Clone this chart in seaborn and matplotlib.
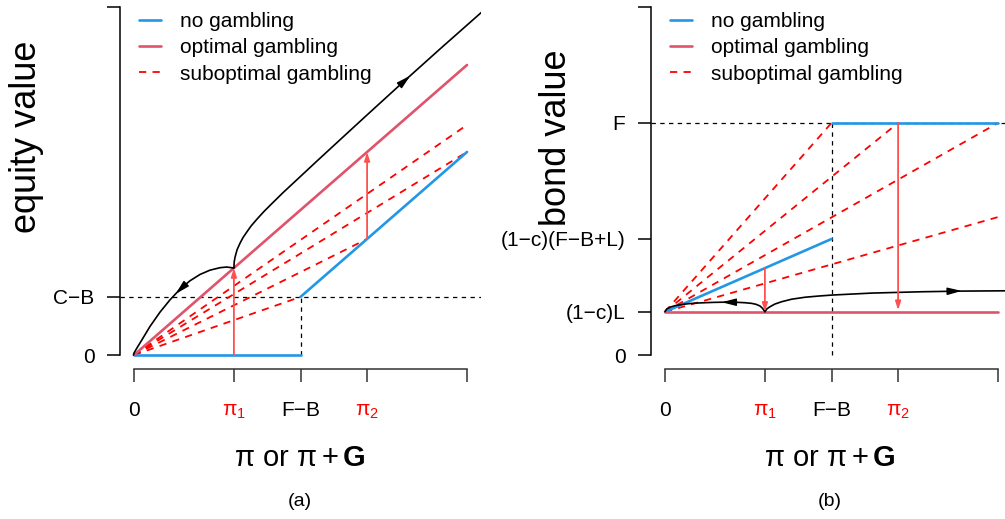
import numpy as np
import pandas as pd
import matplotlib
matplotlib.use("Agg")
import matplotlib.pyplot as plt
from matplotlib.lines import Line2D
import seaborn as sns

# x axis (same for both panels): 0, pi1, F-B, pi2, right end
xtick_pos = [0.0, 0.6, 1.0, 1.4, 2.0]
xtick_lab = ['0', r'$\pi_1$', 'F\u2212B', r'$\pi_2$', '']
red_ticks = [1, 3]

# ---- panel (a): equity value ----
a_ytick_pos = [0.0, 0.35, 2.096]
a_ytick_lab = ['0', 'C\u2212B', '']
a_nogamble_x = [0.0, 1.0, 1.0, 2.0]
a_nogamble_y = [0.0, 0.0, 0.35, 1.223]
a_nogamble_seg = [0, 0, 1, 1]
a_optimal_x = [0.0, 2.0]
a_optimal_y = [0.0, 1.747]
a_sub_end_x = [1.0, 1.4, 2.0, 2.0]
a_sub_end_y = [0.35, 0.699, 1.223, 1.386]
a_up_x = [0.600, 0.602, 0.607, 0.619, 0.637, 0.655, 0.679, 0.703, 0.739, 0.781,
          0.835, 0.895, 0.985, 1.093, 1.213, 1.393, 1.604, 1.844, 2.090]
a_up_y = [0.525, 0.562, 0.590, 0.634, 0.674, 0.708, 0.743, 0.777, 0.819, 0.865,
          0.919, 0.978, 1.062, 1.163, 1.274, 1.440, 1.633, 1.849, 2.067]
a_down_x = [0.600, 0.557, 0.517, 0.456, 0.396, 0.336, 0.276, 0.216, 0.156, 0.096,
            0.048, 0.018, 0.0, -0.003]
a_down_y = [0.524, 0.530, 0.526, 0.511, 0.485, 0.447, 0.396, 0.332, 0.258, 0.172,
            0.092, 0.043, 0.012, 0.0]
a_red_arrows = [((0.6, 0.0), (0.6, 0.524)), ((1.4, 0.699), (1.4, 1.223))]
a_curve_arrows = [((1.604, 1.633), (1.66, 1.683)), ((0.29, 0.407), (0.25, 0.368))]

# ---- panel (b): bond value ----
b_ytick_pos = [0.0, 0.26, 0.699, 1.398, 2.096]
b_ytick_lab = ['0', '(1\u2212c)L', '(1\u2212c)(F\u2212B+L)', 'F', '']
b_nogamble_x = [0.0, 1.0, 1.0, 2.0]
b_nogamble_y = [0.26, 0.699, 1.398, 1.398]
b_nogamble_seg = [0, 0, 1, 1]
b_optimal_x = [0.0, 2.0]
b_optimal_y = [0.26, 0.26]
b_sub_end_x = [1.0, 1.4, 2.0, 2.0]
b_sub_end_y = [1.398, 1.398, 1.398, 0.831]
b_right_x = [0.6, 0.612, 0.631, 0.66, 0.701, 0.76, 0.841, 0.92, 1.001, 1.12, 1.241,
             1.39, 1.542, 1.782, 2.09]
b_right_y = [0.261, 0.278, 0.291, 0.307, 0.321, 0.336, 0.348, 0.355, 0.361, 0.367,
             0.373, 0.377, 0.381, 0.385, 0.387]
b_left_x = [0.6, 0.585, 0.571, 0.548, 0.521, 0.48, 0.44, 0.39, 0.341, 0.29, 0.24,
            0.19, 0.14, 0.1, 0.06, 0.03, 0.01, 0.0]
b_left_y = [0.261, 0.282, 0.295, 0.305, 0.311, 0.315, 0.317, 0.318, 0.318, 0.317,
            0.315, 0.313, 0.309, 0.304, 0.297, 0.288, 0.277, 0.261]
b_red_arrows = [((0.6, 0.523), (0.6, 0.26)), ((1.4, 1.398), (1.4, 0.27))]
b_curve_arrows = [((1.70, 0.384), (1.782, 0.386)), ((0.41, 0.318), (0.341, 0.318))]

BLUE = '#2297E6'
RED = '#DF536B'
ARROW_RED = '#FF5050'

sns.set_style('ticks')
plt.rcParams['font.family'] = ['Liberation Sans', 'DejaVu Sans']
plt.rcParams['mathtext.fontset'] = 'custom'
plt.rcParams['mathtext.rm'] = 'Liberation Sans'
plt.rcParams['mathtext.it'] = 'Liberation Sans:italic'
plt.rcParams['mathtext.bf'] = 'Liberation Sans:bold'
plt.rcParams['mathtext.default'] = 'rm'
plt.rcParams['text.color'] = 'black'
plt.rcParams['xtick.labelcolor'] = 'black'
plt.rcParams['ytick.labelcolor'] = 'black'

W, H = 1005, 519
fig = plt.figure(figsize=(W / 100, H / 100), dpi=100)


def fx(px):
    return px / W


def fy(py):
    return 1 - py / H


def draw_panel(ax, nog_x, nog_y, nog_seg, opt_x, opt_y, sub_x, sub_y, y0,
               curves, red_arrows, curve_arrows, yticks, ylabs, hline, vline_top):
    ax.set_xlim(-0.0841, 2.0841)
    ax.set_ylim(-0.0843, 2.0964)

    # reference dashed lines
    ax.axhline(hline, color='black', lw=0.9, ls=(0, (3.5, 3.5)), zorder=1)
    ax.plot([1.0, 1.0], [0.0, vline_top], color='black', lw=0.9, ls=(0, (3.5, 3.5)), zorder=1)

    # suboptimal gambling rays
    rays = pd.DataFrame({
        'x': np.ravel([[0.0, ex] for ex in sub_x]),
        'y': np.ravel([[y0, ey] for ey in sub_y]),
        'ray': np.repeat(np.arange(len(sub_x)), 2),
    })
    sns.lineplot(data=rays, x='x', y='y', units='ray', estimator=None, sort=False,
                 color='red', lw=1.3, linestyle=(0, (4, 3.5)), ax=ax, zorder=2)

    nog = pd.DataFrame({'x': nog_x, 'y': nog_y, 'seg': nog_seg})
    sns.lineplot(data=nog, x='x', y='y', units='seg', estimator=None, sort=False,
                 color=BLUE, lw=1.9, ax=ax, zorder=3)
    sns.lineplot(x=opt_x, y=opt_y, color=RED, lw=1.9, ax=ax, zorder=3)

    for cx, cy in curves:
        sns.lineplot(x=cx, y=cy, sort=False, estimator=None, color='black', lw=1.2, ax=ax, zorder=4)

    for start, end in red_arrows:
        ax.annotate('', xy=end, xytext=start,
                    arrowprops=dict(arrowstyle='-|>,head_length=0.5,head_width=0.16',
                                    color=ARROW_RED, lw=1.3, shrinkA=0, shrinkB=0), zorder=5)
    for start, end in curve_arrows:
        ax.annotate('', xy=end, xytext=start,
                    arrowprops=dict(arrowstyle='-|>,head_length=0.85,head_width=0.22',
                                    color='black', lw=1.0, shrinkA=0, shrinkB=0), zorder=5)

    # R-like detached axes
    for side in ['top', 'right']:
        ax.spines[side].set_visible(False)
    ax.spines['left'].set_bounds(0, yticks[-1])
    ax.spines['bottom'].set_bounds(0, 2.0)
    ax.spines['left'].set_linewidth(1.1)
    ax.spines['bottom'].set_linewidth(1.1)
    ax.spines['left'].set_color('black')
    ax.spines['bottom'].set_color('#333333')
    ax.set_xticks(xtick_pos)
    ax.set_xticklabels(xtick_lab)
    ax.set_yticks(yticks)
    ax.set_yticklabels(ylabs)
    ax.tick_params(axis='x', length=9.4, width=1.1, pad=14, labelsize=15, color='#333333',
                   labelcolor='black')
    ax.tick_params(axis='y', length=9.4, width=1.1, pad=9, labelsize=15, color='black',
                   labelcolor='black')
    ticks = ax.xaxis.get_major_ticks()
    labels = ax.get_xticklabels()
    for i in red_ticks:
        ticks[i].tick1line.set_color(ARROW_RED)
        labels[i].set_color('red')
    ax.set_xlabel('')
    ax.set_ylabel('')
    ax.set_facecolor('white')


ax_a = fig.add_axes([fx(120), fy(369), fx(361), 362 / H])
draw_panel(ax_a, a_nogamble_x, a_nogamble_y, a_nogamble_seg, a_optimal_x, a_optimal_y,
           a_sub_end_x, a_sub_end_y, 0.0,
           [(a_up_x, a_up_y), (a_down_x, a_down_y)], a_red_arrows, a_curve_arrows,
           a_ytick_pos, a_ytick_lab, 0.35, 0.35)

ax_b = fig.add_axes([fx(651), fy(369), fx(361), 362 / H])
draw_panel(ax_b, b_nogamble_x, b_nogamble_y, b_nogamble_seg, b_optimal_x, b_optimal_y,
           b_sub_end_x, b_sub_end_y, 0.26,
           [(b_right_x, b_right_y), (b_left_x, b_left_y)], b_red_arrows, b_curve_arrows,
           b_ytick_pos, b_ytick_lab, 1.398, 1.398)

handles = [Line2D([], [], color=BLUE, lw=1.9),
           Line2D([], [], color=RED, lw=1.9),
           Line2D([], [], color='red', lw=1.3, ls=(0, (4, 3.5)))]
names = ['no gambling', 'optimal gambling', 'suboptimal gambling']
for ax, lx in [(ax_a, 139), (ax_b, 670)]:
    leg = ax.legend(handles, names, loc='upper left', bbox_to_anchor=(fx(lx), fy(12)),
                    bbox_transform=fig.transFigure, frameon=False, fontsize=15,
                    handlelength=1.05, handletextpad=0.9, labelspacing=0.35,
                    borderpad=0, borderaxespad=0)
    for t in leg.get_texts():
        t.set_color('black')

fig.text(fx(27), fy(137), 'equity value', rotation=90, ha='center', va='center', fontsize=26)
fig.text(fx(556), fy(138), 'bond value', rotation=90, ha='center', va='center', fontsize=26)
for cx in [300, 830]:
    fig.text(fx(cx), fy(458), r'$\pi$ or $\pi+\mathbf{G}$', ha='center', va='center', fontsize=21)
fig.text(fx(300), fy(502), '(a)', ha='center', va='center', fontsize=14)
fig.text(fx(830), fy(502), '(b)', ha='center', va='center', fontsize=14)

fig.savefig('out.png', dpi=100, facecolor='white')
